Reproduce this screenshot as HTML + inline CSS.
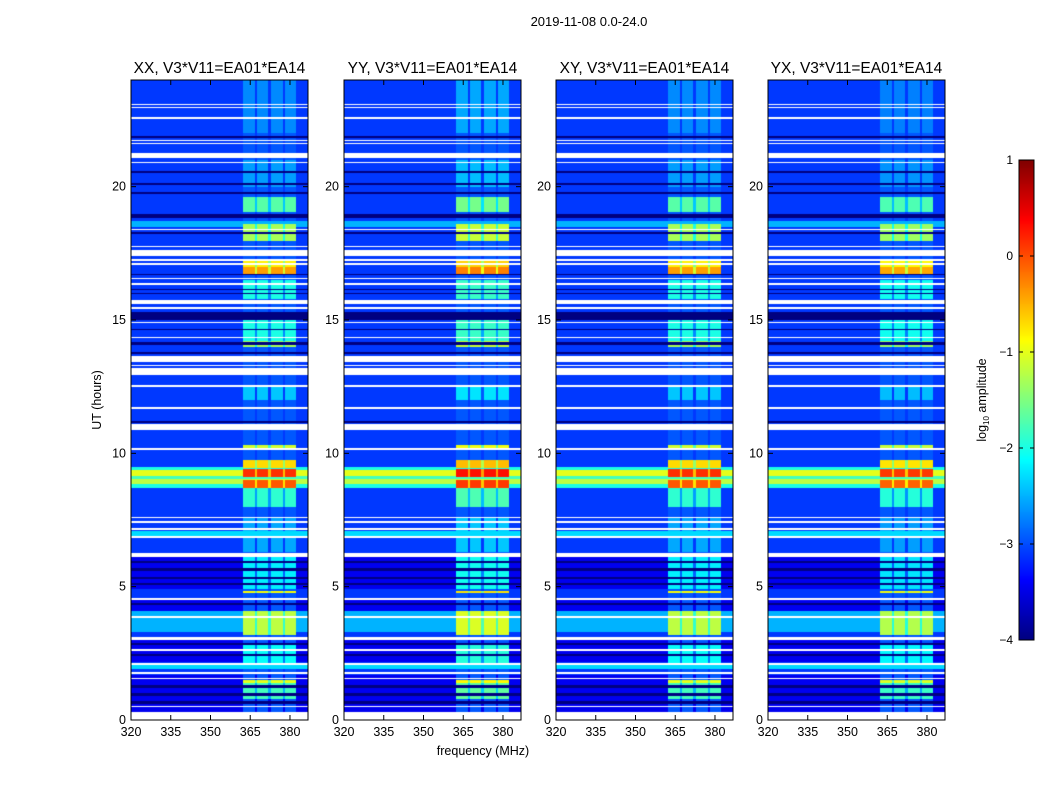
<!DOCTYPE html>
<html><head><meta charset="utf-8">
<style>
body{margin:0;background:#fff;width:1050px;height:800px;overflow:hidden;font-family:"Liberation Sans","DejaVu Sans",sans-serif;}
#root{position:relative;width:1050px;height:800px;}
canvas{position:absolute;}
svg{position:absolute;left:0;top:0;}
</style></head>
<body>
<div id="root">
<svg id="ov" width="1050" height="800"></svg>
</div>
<script>
// ---- data (hours, MHz, log10 amplitude) ----
const panelTitles = ["XX, V3*V11=EA01*EA14","YY, V3*V11=EA01*EA14","XY, V3*V11=EA01*EA14","YX, V3*V11=EA01*EA14"];
const panelLefts = [131,344,556,768];
const panelBandOffset = [0, 0.15, 0, -0.05];
const xTicks = [320,335,350,365,380];
const yTicks = [0,5,10,15,20];
const cbTicks = [1,0,-1,-2,-3,-4];
const cbTickLabels = ["1","0","\u22121","\u22122","\u22123","\u22124"];
const bgLevel = -3.1;
const bandDefault = -2.95;
const bandRange = [362.3, 382.3];
const bandGaps = [367.1, 372.2, 377.8];
const flaggedRows = [[23.06,23.11],[22.95,23.0],[22.55,22.6],[21.71,21.76],[21.6,21.65],[21.07,21.26],[20.88,20.93],
 [18.36,18.41],[17.73,17.78],[17.4,17.62],[17.23,17.28],[17.08,17.13],[16.52,16.57],[16.33,16.38],[15.6,15.75],[15.43,15.48],
 [14.88,14.93],[14.31,14.36],[13.42,13.65],[13.28,13.33],[12.95,13.2],[12.5,12.55],[11.68,11.73],[10.87,11.1],[10.14,10.19],
 [7.58,7.63],[7.4,7.45],[7.14,7.19],[6.84,6.89],[6.11,6.26],[4.5,4.57],[3.84,3.89],[3.0,3.11],[2.6,2.65],[2.08,2.13],[1.74,1.79],[1.52,1.57],[0.47,0.52],[0.0,0.3]];
const darkRows = [[21.84,21.89],[20.53,20.58],[20.08,20.13],[19.74,19.79],[18.82,18.97],[18.24,18.29],[16.67,16.72],[16.11,16.16],[15.96,16.01],
 [15.0,15.3],[14.61,14.66],[14.06,14.18],[13.74,13.79],[12.47,12.52],[11.15,11.2],
 [5.9,5.97],[5.6,5.7],[5.3,5.36],[5.05,5.12],[4.3,4.38],[2.8,2.88],[2.4,2.48],[1.2,1.3],[0.9,1.0],[0.6,0.7]];
const darkBlocks = [[4.9,6.1],[4.1,4.5],[2.18,3.0],[0.3,1.69]];
const bgSegments = [[18.5,18.7,-2.5],[3.3,4.1,-2.5],[1.9,2.06,-2.3],[6.9,7.1,-2.3],[9.15,9.37,-1.0],[8.85,9.04,-1.2],[9.37,9.5,-2.0],[8.7,8.85,-2.0],[9.04,9.15,-1.8]];
const bandSegments = [[19.05,19.6,-1.7],[17.95,18.6,-1.3],[17.0,17.3,-0.8],[16.7,17.0,-0.4],[15.8,16.5,-2.0],[14.2,15.3,-2.0],[14.0,14.2,-1.3],
 [12.0,12.5,-2.4],[10.2,10.3,-1.1],[9.45,9.75,-0.7],[9.1,9.4,0.15],[8.7,9.0,-0.05],[8.0,8.7,-1.9],[6.3,7.6,-2.55],[4.9,6.1,-2.2],
 [4.75,4.85,-0.9],[3.2,4.1,-1.2],[2.1,2.9,-2.1],[1.4,1.5,-1.0],[0.8,1.4,-1.8],[20,21,-2.6],[22,24,-2.7]];

// ---- axes ----
const PW=177, PT=80, PB=720, CBX=1019, CBW=15, CBT=160, CBB=640;
const fMin=320, fMax=386.8, hMin=0, hMax=24;
function xScale(f,left){return left+(f-fMin)/(fMax-fMin)*PW;}
function yScale(h){return PB-(h-hMin)/(hMax-hMin)*(PB-PT);}
function cbScale(v){return CBB-(v+4)/5*(CBB-CBT);}
function inSeg(list,h){for(const s of list){if(h>=s[0]&&h<s[1])return s;}return null;}
function jet(v){let t=Math.max(0,Math.min(1,(v+4)/5));const c=x=>Math.round(255*Math.max(0,Math.min(1,1.5-Math.abs(x))));return [c(4*t-3),c(4*t-2),c(4*t-1)];}
function value(h,f,p){
  if(inSeg(flaggedRows,h))return null;
  const inBand=f>=bandRange[0]&&f<=bandRange[1];
  let bg=bgLevel; const bs=inSeg(bgSegments,h); if(bs)bg=bs[2];
  if(inSeg(darkBlocks,h))bg=-3.45;
  if(inSeg(darkRows,h))return -4;
  if(!inBand)return bg;
  let b=bandDefault; const s=inSeg(bandSegments,h); if(s)b=s[2]+panelBandOffset[p];
  for(const g of bandGaps){if(Math.abs(f-g)<0.45)b-=0.7;}
  return Math.max(bg,b);
}
const root=document.getElementById('root');
panelLefts.forEach((left,p)=>{
  const cv=document.createElement('canvas');
  cv.width=PW;cv.height=PB-PT;cv.style.left=left+'px';cv.style.top=PT+'px';
  
  
  root.insertBefore(cv,root.firstChild);
  const ctx=cv.getContext('2d');const img=ctx.createImageData(PW,PB-PT);
  for(let y=0;y<PB-PT;y++){const h=hMin+(PB-(PT+y+0.5))/(PB-PT)*(hMax-hMin);
    for(let x=0;x<PW;x++){const f=fMin+(x+0.5)/PW*(fMax-fMin);const v=value(h,f,p);const i=(y*PW+x)*4;
      if(v===null){img.data[i]=255;img.data[i+1]=255;img.data[i+2]=255;}else{const c=jet(v);img.data[i]=c[0];img.data[i+1]=c[1];img.data[i+2]=c[2];}
      img.data[i+3]=255;}}
  ctx.putImageData(img,0,0);
});
// colorbar
const cb=document.createElement('canvas');cb.width=CBW;cb.height=CBB-CBT;cb.style.left=CBX+'px';cb.style.top=CBT+'px';


root.insertBefore(cb,root.firstChild);
{const ctx=cb.getContext('2d');for(let y=0;y<CBB-CBT;y++){const v=1-(y+0.5)/(CBB-CBT)*5;const c=jet(v);ctx.fillStyle=`rgb(${c})`;ctx.fillRect(0,y,CBW,1);}}

const NS='http://www.w3.org/2000/svg';const ov=document.getElementById('ov');
function el(tag,attrs,txt){const e=document.createElementNS(NS,tag);for(const k in attrs)e.setAttribute(k,attrs[k]);if(txt!==undefined)e.textContent=txt;ov.appendChild(e);return e;}
let t=el('text',{x:589,y:26,'font-size':13,'text-anchor':'middle'},'2019-11-08 0.0-24.0');


panelLefts.forEach((left,p)=>{
  const fr=el('rect',{x:left,y:PT,width:PW,height:PB-PT,fill:'none',stroke:'#000','stroke-width':1});
  
  
  const tt=el('text',{x:left+PW/2,y:73,'font-size':15.5,'text-anchor':'middle'},panelTitles[p]);
  
  
  xTicks.forEach(v=>{const x=xScale(v,left);
    el('line',{x1:x,x2:x,y1:PB,y2:PB-5,stroke:'#000'});el('line',{x1:x,x2:x,y1:PT,y2:PT+5,stroke:'#000'});
    const l=el('text',{x:x,y:PB+16,'font-size':12.5,'text-anchor':'middle'},v);
    
    });
  yTicks.forEach(v=>{const y=yScale(v);
    el('line',{x1:left,x2:left+5,y1:y,y2:y,stroke:'#000'});el('line',{x1:left+PW,x2:left+PW-5,y1:y,y2:y,stroke:'#000'});
    const l=el('text',{x:left-5,y:y+4,'font-size':12.5,'text-anchor':'end'},v);
    
    });
});
t=el('text',{x:483,y:755,'font-size':12.5,'text-anchor':'middle'},'frequency (MHz)');


t=el('text',{x:0,y:0,'font-size':12.5,'text-anchor':'middle',transform:'translate(101,400) rotate(-90)'},'UT (hours)');


const cbf=el('rect',{x:CBX,y:CBT,width:CBW,height:CBB-CBT,fill:'none',stroke:'#000'});


cbTicks.forEach((v,i)=>{const y=cbScale(v);
  el('line',{x1:CBX,x2:CBX+4,y1:y,y2:y,stroke:'#000'});el('line',{x1:CBX+CBW,x2:CBX+CBW-4,y1:y,y2:y,stroke:'#000'});
  const l=el('text',{x:1013,y:y+4,'font-size':12,'text-anchor':'end'},cbTickLabels[i]);
  
  });
t=el('text',{x:0,y:0,'font-size':12.5,'text-anchor':'middle',transform:'translate(986,400) rotate(-90)'});


t.innerHTML='log<tspan font-size="8" dy="3">10</tspan><tspan dy="-3"> amplitude</tspan>';
</script>
</body></html>
